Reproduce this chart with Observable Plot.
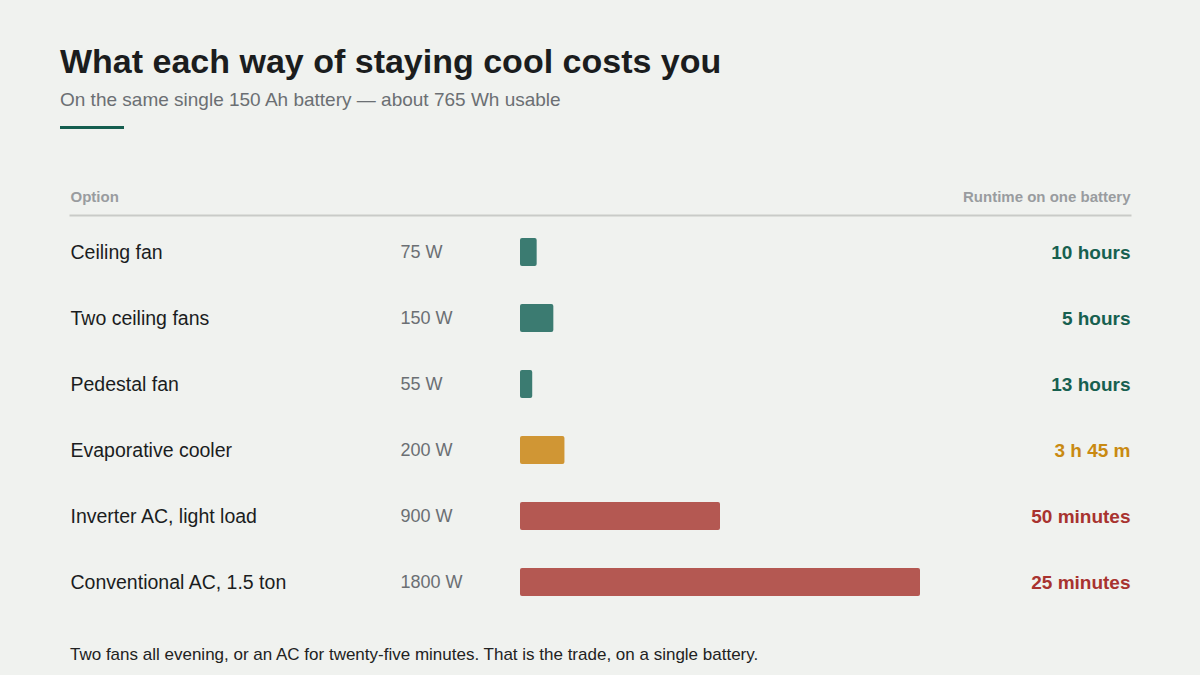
<!DOCTYPE html>
<html>
<head>
<meta charset="utf-8">
<script src="https://cdn.jsdelivr.net/npm/d3@7"></script>
<script src="https://cdn.jsdelivr.net/npm/@observablehq/plot@0.6"></script>
<style>
  html, body { margin: 0; padding: 0; background: #f0f2ef; }
  body { width: 1200px; height: 675px; position: relative; overflow: hidden; font-family: "Liberation Sans", Arial, sans-serif; }
  #title { position: absolute; left: 60px; top: 41px; margin: 0; font-size: 34px; line-height: 40px; font-weight: 700; color: #1b1d1e; letter-spacing: 0; }
  #subtitle { position: absolute; left: 60px; top: 89px; margin: 0; font-size: 19px; line-height: 22px; color: #6b6f73; }
  #accent { position: absolute; left: 60px; top: 126px; width: 64px; height: 3px; background: #155e4f; }
  #chart { position: absolute; left: 0; top: 170px; }
  #caption { position: absolute; left: 70px; top: 645px; margin: 0; font-size: 17px; line-height: 20px; color: #222; }
</style>
</head>
<body>
<h1 id="title">What each way of staying cool costs you</h1>
<p id="subtitle">On the same single 150 Ah battery — about 765 Wh usable</p>
<div id="accent"></div>
<div id="chart"></div>
<p id="caption">Two fans all evening, or an AC for twenty-five minutes. That is the trade, on a single battery.</p>
<script>
const options = ["Ceiling fan", "Two ceiling fans", "Pedestal fan", "Evaporative cooler", "Inverter AC, light load", "Conventional AC, 1.5 ton"];
const watts = [75, 150, 55, 200, 900, 1800];
const wattLabels = ["75 W", "150 W", "55 W", "200 W", "900 W", "1800 W"];
const runtimes = ["10 hours", "5 hours", "13 hours", "3 h 45 m", "50 minutes", "25 minutes"];
const tiers = ["fan", "fan", "fan", "cooler", "ac", "ac"];
const headers = ["Option", "Runtime on one battery"];

const barColor = {fan: "#3b7b71", cooler: "#d09634", ac: "#b45852"};
const textColor = {fan: "#17604f", cooler: "#c98a12", ac: "#a8332f"};

const rows = options.map((o, i) => ({option: o, watts: watts[i], wattLabel: wattLabels[i], runtime: runtimes[i], tier: tiers[i]}));

const font = "Liberation Sans, Arial, sans-serif";
const chart = Plot.plot({
  width: 1200,
  height: 450,
  marginTop: 45,
  marginLeft: 0,
  marginRight: 0,
  marginBottom: 0,
  style: {background: "transparent", fontFamily: font},
  x: {domain: [0, 1800], range: [520, 920], axis: null},
  y: {domain: options, range: [49, 445], padding: 0, axis: null},
  marks: [
    Plot.frame({anchor: "top", stroke: "#c9cbc8", strokeWidth: 2, strokeOpacity: 1, insetLeft: 70, insetRight: 70}),
    Plot.text([headers[0]], {frameAnchor: "top-left", dx: 70, dy: -14, text: d => d, textAnchor: "start", lineAnchor: "bottom", fill: "#999c9f", fontSize: 15, fontWeight: 700}),
    Plot.text([headers[1]], {frameAnchor: "top-right", dx: -70, dy: -14, text: d => d, textAnchor: "end", lineAnchor: "bottom", fill: "#999c9f", fontSize: 15, fontWeight: 700}),
    Plot.barX(rows, {y: "option", x: "watts", fill: d => barColor[d.tier], insetTop: 19, insetBottom: 19, rx: 2}),
    Plot.text(rows, {y: "option", frameAnchor: "left", dx: 70, text: "option", textAnchor: "start", fill: "#1b1d1e", fontSize: 19.5}),
    Plot.text(rows, {y: "option", frameAnchor: "left", dx: 400, text: "wattLabel", textAnchor: "start", fill: "#6b6f73", fontSize: 18}),
    Plot.text(rows, {y: "option", frameAnchor: "right", dx: -70, text: "runtime", textAnchor: "end", fill: d => textColor[d.tier], fontSize: 19, fontWeight: 700})
  ]
});
document.getElementById("chart").appendChild(chart);
</script>
</body>
</html>
